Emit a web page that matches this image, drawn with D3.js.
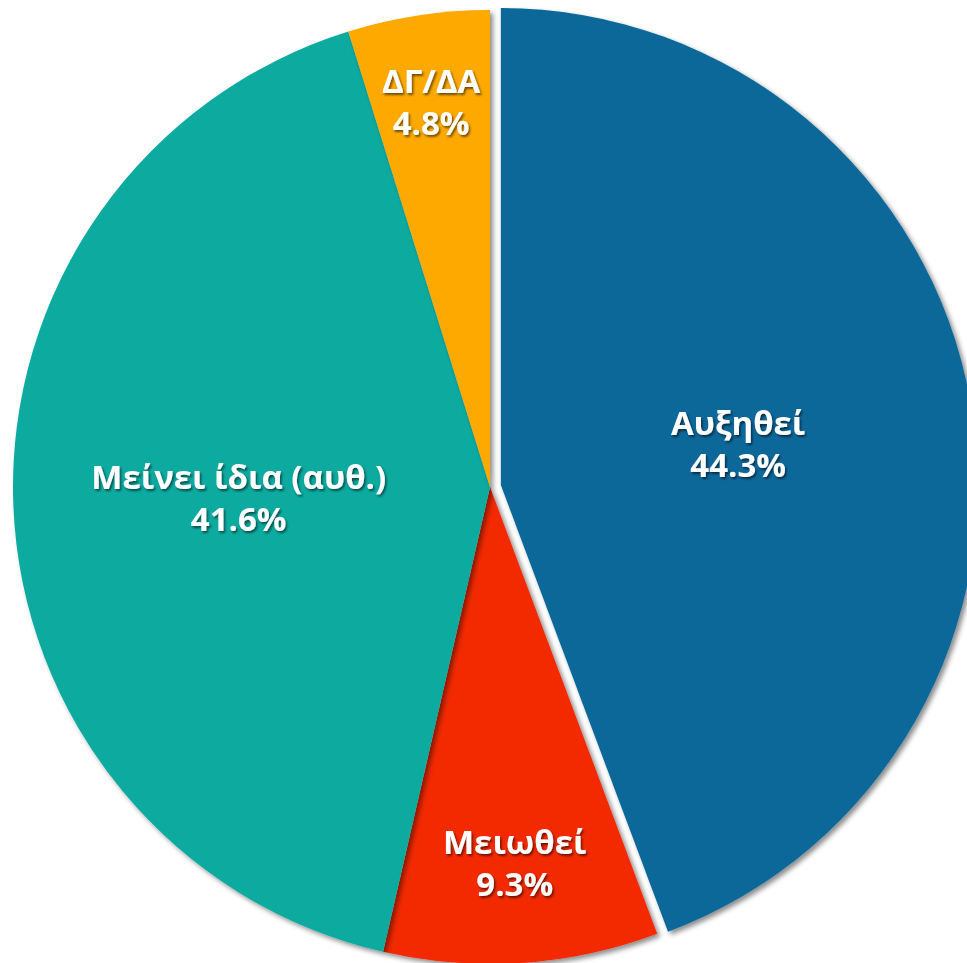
<!DOCTYPE html>
<html>
<head>
<meta charset="utf-8">
<script src="https://cdn.jsdelivr.net/npm/d3@7"></script>
<style>
html,body{margin:0;padding:0;background:#fff;overflow:hidden;}
svg{display:block;}
</style>
</head>
<body>
<svg id="chart" width="967" height="963"></svg>
<script>
const categories = ["Αυξηθεί", "Μειωθεί", "Μείνει ίδια (αυθ.)", "ΔΓ/ΔΑ"];
const values = [44.3, 9.3, 41.6, 4.8];
const valueLabels = ["44.3%", "9.3%", "41.6%", "4.8%"];
const colors = ["#0b689a", "#f32b02", "#0eaaa0", "#fda902"];
const exploded = [true, false, false, false];

const W = 967, H = 963;
const cx = 490, cy = 487, R = 477, explode = 11;
const svg = d3.select("#chart");
const defs = svg.append("defs");
const sf = defs.append("filter").attr("id","sliceShadow").attr("x","-10%").attr("y","-10%").attr("width","120%").attr("height","120%");
sf.append("feDropShadow").attr("dx",3).attr("dy",3).attr("stdDeviation",2.5).attr("flood-color","#000").attr("flood-opacity",0.45);
const tf = defs.append("filter").attr("id","textShadow").attr("x","-10%").attr("y","-20%").attr("width","120%").attr("height","140%");
tf.append("feDropShadow").attr("dx",1.5).attr("dy",2).attr("stdDeviation",1.2).attr("flood-color","#000").attr("flood-opacity",0.55);

const data = categories.map((c,i)=>({cat:c, value:values[i], label:valueLabels[i], color:colors[i], exploded:exploded[i]}));
const total = d3.sum(values);
const pie = d3.pie().value(d=>d.value).sort(null);
const arcs = pie(data);
const arc = d3.arc().innerRadius(0).outerRadius(R);

const g = svg.append("g").attr("transform",`translate(${cx},${cy})`);

function offsetOf(d){
  if(!d.data.exploded) return [0,0];
  const a = (d.startAngle + d.endAngle)/2;
  return [Math.sin(a)*explode, -Math.cos(a)*explode];
}

g.selectAll("path.slice").data(arcs).join("path")
  .attr("class","slice")
  .attr("d", arc)
  .attr("fill", d=>d.data.color)
  .attr("filter","url(#sliceShadow)")
  .attr("transform", d=>{const o=offsetOf(d); return `translate(${o[0]},${o[1]})`;});

// labels ("best fit"-like: smaller slices pushed outward)
const labels = g.selectAll("g.lbl").data(arcs).join("g").attr("class","lbl")
  .attr("transform", d=>{
    const share = d.data.value/total;
    const lr = R*(0.86 - share*0.8);
    const a = (d.startAngle+d.endAngle)/2;
    const o = offsetOf(d);
    return `translate(${Math.sin(a)*lr+o[0]},${-Math.cos(a)*lr+o[1]})`;
  })
  .attr("filter","url(#textShadow)");

labels.append("text").attr("text-anchor","middle").attr("y",-7)
  .attr("font-family","'Open Sans', 'DejaVu Sans', sans-serif").attr("font-weight","bold")
  .attr("font-size",33).attr("fill","#fff").text(d=>d.data.cat);
labels.append("text").attr("text-anchor","middle").attr("y",35)
  .attr("font-family","'Open Sans', 'DejaVu Sans', sans-serif").attr("font-weight","bold")
  .attr("font-size",33).attr("fill","#fff").text(d=>d.data.label);
</script>
</body>
</html>
